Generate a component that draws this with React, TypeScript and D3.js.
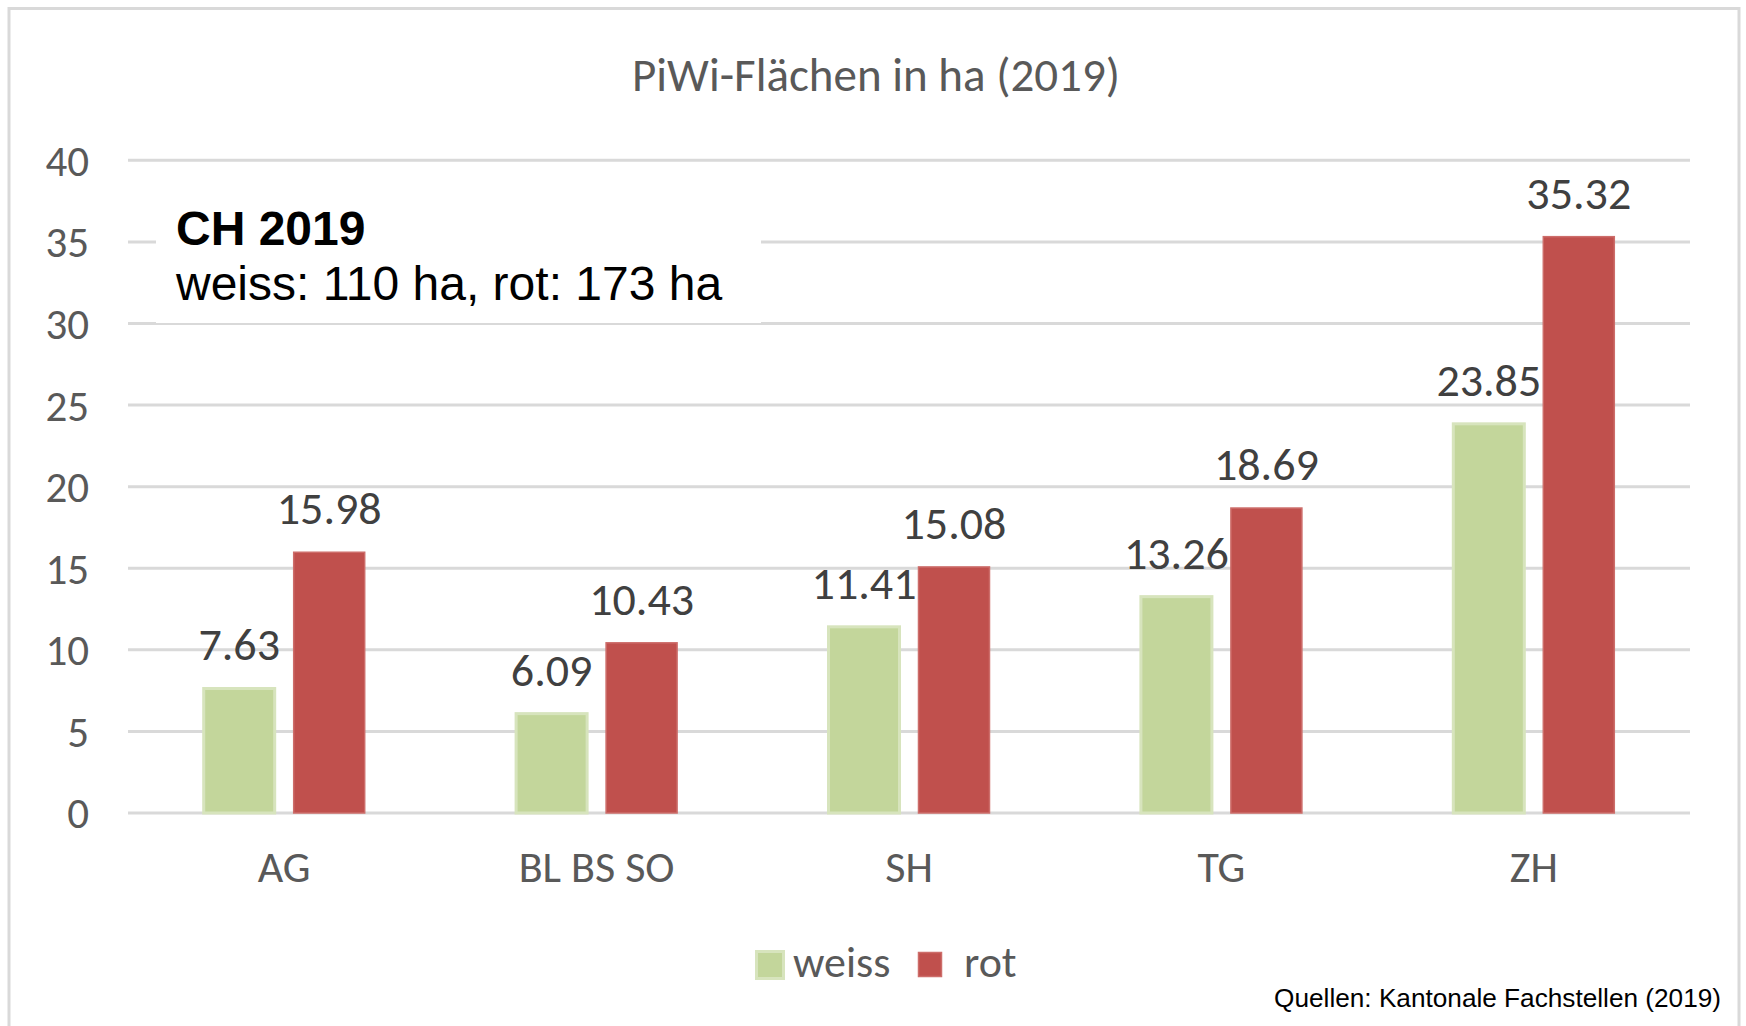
import React from 'react';
import * as d3 from 'd3';

// PiWi areas per canton, 2019 (ha)
const categories = ['AG', 'BL BS SO', 'SH', 'TG', 'ZH'];
const seriesNames = ['weiss', 'rot'];
const weissValues = [7.63, 6.09, 11.41, 13.26, 23.85];
const rotValues = [15.98, 10.43, 15.08, 18.69, 35.32];
const yTicks = [0, 5, 10, 15, 20, 25, 30, 35, 40];

const title = 'PiWi-Flächen in ha (2019)';
const noteTitle = 'CH 2019';
const noteText = 'weiss: 110 ha, rot: 173 ha';
const sourceText = 'Quellen: Kantonale Fachstellen (2019)';

const width = 1746;
const height = 1026;
const plot = { left: 128, right: 1690, top: 160.3, bottom: 813 };

const calibri = 'Carlito, Lato, "Open Sans", sans-serif';
const arial = '"Liberation Sans", Arial, sans-serif';

const fills = { weiss: '#c3d69b', rot: '#c0504d' };
const strokes = { weiss: '#d7e4bd', rot: '#cd6d6a' };

const App = () => {
  const x0 = d3.scaleBand<string>()
    .domain(categories)
    .range([plot.left, plot.right]);

  const groupWidth = 161;
  const x1 = d3.scaleBand<string>()
    .domain(seriesNames)
    .range([0, groupWidth])
    .paddingInner(0.211);
  const groupOffset = (x0.bandwidth() - groupWidth) / 2;

  const y = d3.scaleLinear()
    .domain([0, 40])
    .range([plot.bottom, plot.top]);

  const rows = categories.map((c, i) => ({
    category: c,
    values: [
      { key: 'weiss', value: weissValues[i] },
      { key: 'rot', value: rotValues[i] },
    ],
  }));

  return (
    <svg
      width={width}
      height={height}
      style={{ position: 'absolute', left: 0, top: 0, background: '#fff' }}
    >
      {/* outer frame */}
      <rect x={9} y={8.5} width={1730} height={1040} fill="#fff" stroke="#d9d9d9" strokeWidth={3} />

      <text
        x={876}
        y={91}
        textAnchor="middle"
        fontFamily={calibri}
        fontSize={47}
        fill="#595959"
      >
        {title}
      </text>

      {/* gridlines */}
      {yTicks.map(t => (
        <line
          key={t}
          x1={plot.left}
          x2={plot.right}
          y1={y(t)}
          y2={y(t)}
          stroke="#d9d9d9"
          strokeWidth={3}
        />
      ))}

      {/* y-axis labels */}
      {yTicks.map(t => (
        <text
          key={`l${t}`}
          x={89}
          y={y(t)}
          dy="0.36em"
          textAnchor="end"
          fontFamily={calibri}
          fontSize={43}
          fill="#595959"
        >
          {t}
        </text>
      ))}

      {/* note box */}
      <rect x={156} y={186} width={605} height={137} fill="#fff" />
      <text x={176} y={245} fontFamily={arial} fontWeight="bold" fontSize={48} fill="#000">
        {noteTitle}
      </text>
      <text x={176} y={300} fontFamily={arial} fontSize={48} fill="#000">
        {noteText}
      </text>

      {/* bars */}
      {rows.map(r => (
        <g key={r.category} transform={`translate(${(x0(r.category) ?? 0) + groupOffset},0)`}>
          {r.values.map(v => (
            <rect
              key={v.key}
              x={x1(v.key)}
              y={y(v.value)}
              width={x1.bandwidth()}
              height={y(0) - y(v.value)}
              fill={fills[v.key]}
              stroke={strokes[v.key]}
              strokeWidth={v.key === 'weiss' ? 3 : 1.5}
            />
          ))}
          {r.values.map(v => (
            <text
              key={`t${v.key}`}
              x={(x1(v.key) ?? 0) + x1.bandwidth() / 2}
              y={y(v.value) - 28}
              textAnchor="middle"
              fontFamily={calibri}
              fontSize={46}
              fill="#404040"
            >
              {v.value.toFixed(2)}
            </text>
          ))}
        </g>
      ))}

      {/* category labels */}
      {categories.map(c => (
        <text
          key={c}
          x={(x0(c) ?? 0) + x0.bandwidth() / 2}
          y={881.5}
          textAnchor="middle"
          fontFamily={calibri}
          fontSize={44}
          fill="#595959"
        >
          {c}
        </text>
      ))}

      {/* legend */}
      <g>
        <rect x={756.5} y={951.5} width={27} height={27} fill={fills.weiss} stroke={strokes.weiss} strokeWidth={3} />
        <text x={793} y={977} fontFamily={calibri} fontSize={44} fill="#595959">weiss</text>
        <rect x={918.5} y={952.5} width={23} height={24} fill={fills.rot} stroke={strokes.rot} strokeWidth={1.5} />
        <text x={964} y={977} fontFamily={calibri} fontSize={44} fill="#595959">rot</text>
      </g>

      <text x={1721} y={1007} textAnchor="end" fontFamily={arial} fontSize={26.2} fill="#000">
        {sourceText}
      </text>
    </svg>
  );
};

export default App;
